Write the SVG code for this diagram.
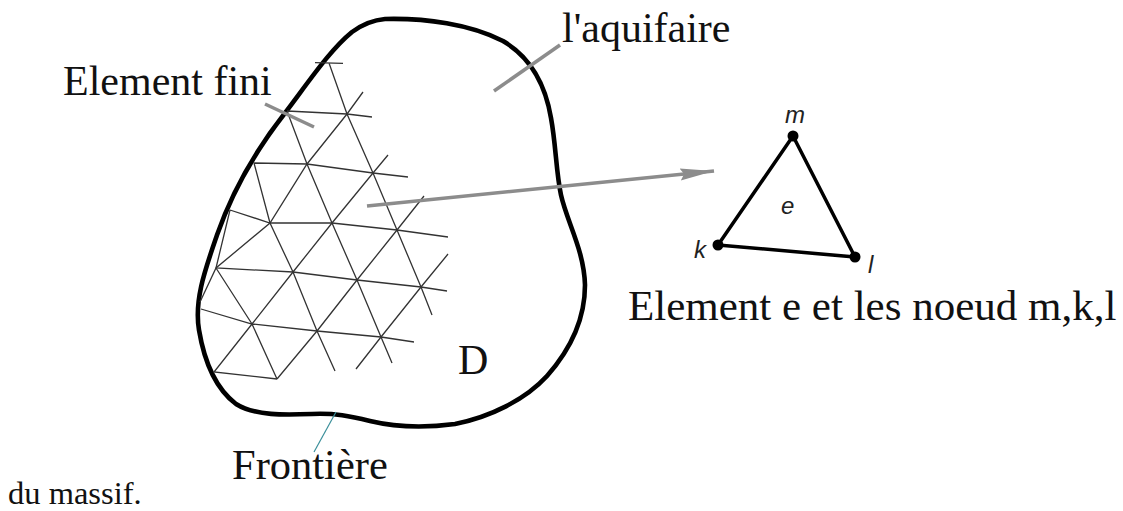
<svg xmlns="http://www.w3.org/2000/svg" width="1123" height="511" viewBox="0 0 1123 511">
<style>
.t{font-family:"Liberation Serif","Times New Roman",serif;font-size:42px;fill:#111}
.s{font-family:"Liberation Sans",Arial,sans-serif;font-size:24px;font-style:italic;fill:#222}
.m{fill:none;stroke:#333;stroke-width:1.3}
.g{fill:none;stroke:#8c8c8c;stroke-width:3.500}
.b{fill:none;stroke:#000;stroke-width:4.600;stroke-linejoin:round;stroke-linecap:round}
</style>
<defs><marker id="ah" markerUnits="userSpaceOnUse" markerWidth="40" markerHeight="14" refX="34" refY="7" orient="auto"><path d="M0 1L34 7L0 13L4 7Z" fill="#8c8c8c"/></marker></defs>
<rect width="1123" height="511" fill="#fff"/>
<g id="domain"><path class="b" d="M385 19C425 18 470 24 503 41C532 58 546 88 551 118C556 145 556 172 561 195C567 222 584 250 585 285C585 320 570 350 547 376C525 400 490 417 455 424C425 428 395 427 370 421C350 416 335 413 312 414C285 415 255 416 236 404C215 388 204 360 199 330C194 300 205 270 217 235C232 192 256 150 285 113C310 80 330 50 352 32C363 24 373 20 385 19Z"/></g>
<g id="mesh">
<path class="m" d="M315 62.700L343 63.300M329 63L347 114L373 173L397 230L421 287L432 315"/>
<path class="m" d="M287 111L347 114L372 117M287 111L307 164L332 223L357 280L381 337L392 363"/>
<path class="m" d="M363 92L347 114L307 164L270 223L216 268L200 302"/>
<path class="m" d="M254 163L307 164L373 173L408 177M254 163L270 223L293 272L317 331L335 371"/>
<path class="m" d="M388 155L373 173L332 223L293 272L252 324L214 372L277 379"/>
<path class="m" d="M230 210L270 223L332 223L397 230L448 237M230 210L216 268L293 272L357 280L421 287L447 291"/>
<path class="m" d="M424 196L397 230L357 280L317 331L277 379M448 254L421 287L381 337L356 369"/>
<path class="m" d="M201 309L252 324L317 331L381 337L414 342M216 268L252 324L277 379"/>
</g>
<g id="connectors">
<path class="g" d="M265 104L314 127"/>
<path class="g" d="M494 91L560 45"/>
<path class="g" d="M367 206L714 171" stroke-width="4" marker-end="url(#ah)"/>
<path d="M336 412L314 452" fill="none" stroke="#3a8f9a" stroke-width="1.200"/>
</g>
<g id="triangle">
<path d="M793 136L718 245L855 257Z" fill="none" stroke="#000" stroke-width="3.500" stroke-linejoin="round"/>
<circle cx="793" cy="136" r="5.500"/><circle cx="718" cy="245" r="5.500"/><circle cx="855" cy="257" r="5.500"/>
<text class="s" x="785" y="123">m</text><text class="s" x="781" y="214">e</text><text class="s" x="694" y="258">k</text><text class="s" x="868" y="273">l</text>
</g>
<g id="labels">
<text class="t" x="63" y="95">Element fini</text>
<text class="t" x="562" y="42">l'aquifaire</text>
<text class="t" x="458" y="374">D</text>
<text class="t" x="232" y="479" style="font-size:42.500px">Frontière</text>
<text class="t" x="628" y="320" style="font-size:43px">Element e et les noeud m,k,l</text>
<text class="t" x="8" y="504" style="font-size:32.500px">du massif.</text>
</g>
</svg>
